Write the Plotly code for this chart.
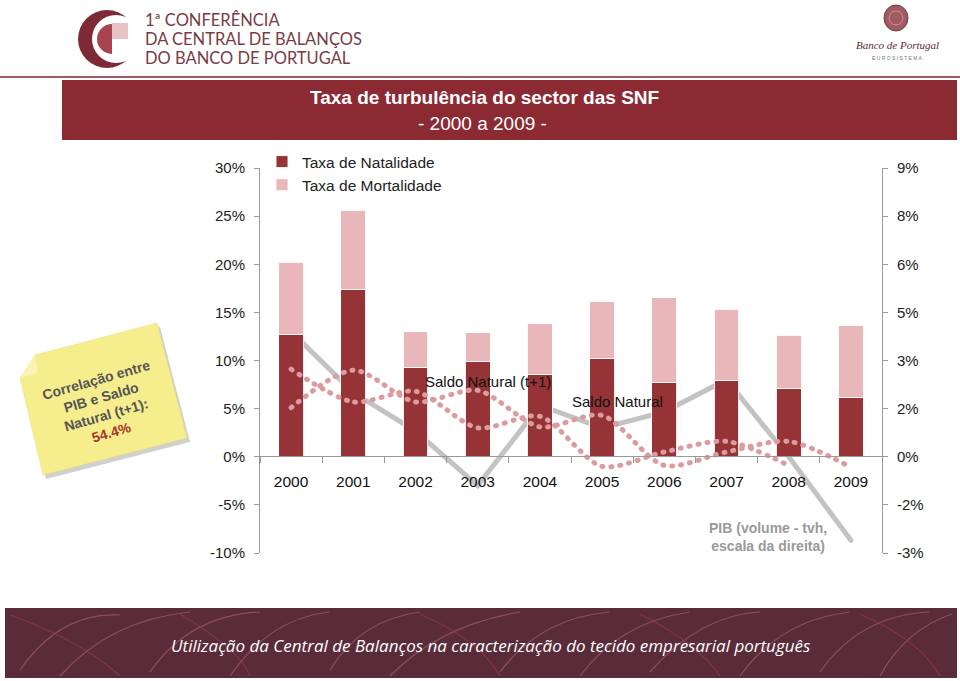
import plotly.graph_objects as go

# ---------------- data ----------------
years = ['2000', '2001', '2002', '2003', '2004', '2005', '2006', '2007', '2008', '2009']
natalidade = [12.7, 17.4, 9.3, 9.9, 8.5, 10.2, 7.7, 7.9, 7.1, 6.2]
mortalidade = [7.5, 8.2, 3.7, 3.0, 5.3, 5.9, 8.8, 7.4, 5.5, 7.4]
saldo_natural = [5.1, 9.0, 5.7, 6.9, 3.1, 4.3, -0.9, 0.5, 1.6, -1.1]
saldo_natural_t1 = [9.1, 5.7, 6.8, 3.0, 4.2, -1.0, 0.5, 1.6, -0.9]
pib = [3.9, 2.0, 0.8, -0.9, 1.6, 0.9, 1.4, 2.4, 0.0, -2.6]

left_tickvals = [-10, -5, 0, 5, 10, 15, 20, 25, 30]
left_ticktext = ['-10%', '-5%', '0%', '5%', '10%', '15%', '20%', '25%', '30%']
right_tickvals = [-3, -1.5, 0, 1.5, 3, 4.5, 6, 7.5, 9]
right_ticktext = ['-3%', '-2%', '0%', '2%', '3%', '5%', '6%', '8%', '9%']

# ---------------- colours / fonts ----------------
DARK = '#953336'
LIGHT = '#e9b6b9'
DOT = '#dc9b9e'
GREY = '#c3c3c3'
AX = '#9a9a9a'
FONT = 'Arial, Liberation Sans, sans-serif'

W, H = 960, 681
ML, MR, MT, MB = 260, 78, 168, 128
PW, PH = W - ML - MR, H - MT - MB


def PX(x):
    return (x - ML) / PW


def PY(y):
    return (H - MB - y) / PH


fig = go.Figure()

# PIB on the primary (right) axis so that it sits behind the bars
fig.add_trace(go.Scatter(
    x=years, y=pib, mode='lines', name='PIB', showlegend=False,
    line=dict(color=GREY, width=5), yaxis='y', hoverinfo='skip'))

fig.add_trace(go.Bar(
    x=years, y=natalidade, name='Taxa de Natalidade', yaxis='y2',
    marker=dict(color=DARK, line=dict(color='rgba(255,255,255,0.9)', width=1))))
fig.add_trace(go.Bar(
    x=years, y=mortalidade, name='Taxa de Mortalidade', yaxis='y2',
    marker=dict(color=LIGHT, line=dict(color='rgba(255,255,255,0.9)', width=1))))

fig.add_trace(go.Scatter(
    x=years, y=saldo_natural, mode='lines', name='Saldo Natural', showlegend=False,
    line=dict(color=DOT, width=5, dash='1px,8px', shape='spline', smoothing=0.8),
    yaxis='y2'))
fig.add_trace(go.Scatter(
    x=years[:len(saldo_natural_t1)], y=saldo_natural_t1, mode='lines',
    name='Saldo Natural (t+1)', showlegend=False,
    line=dict(color=DOT, width=5, dash='1px,8px', shape='spline', smoothing=0.8),
    yaxis='y2'))

shapes = []
annotations = []


def note_text(x, y, text, size, color, family=FONT, xanchor='center', angle=0):
    annotations.append(dict(xref='paper', yref='paper', x=PX(x), y=PY(y), xanchor=xanchor,
                            yanchor='middle', text=text, showarrow=False, textangle=angle,
                            font=dict(family=family, size=size, color=color)))


# header rule
shapes.append(dict(type='line', xref='paper', yref='paper', x0=PX(0), x1=PX(960),
                   y0=PY(77), y1=PY(77), line=dict(color='#9a5a60', width=2)))
# title bar
shapes.append(dict(type='rect', xref='paper', yref='paper', x0=PX(62), x1=PX(957),
                   y0=PY(140), y1=PY(80), fillcolor='#8c2a33', line=dict(width=0)))
note_text(484, 98, '<b>Taxa de turbulência do sector das SNF</b>', 19, 'white')
note_text(482, 124, '- 2000 a 2009 -', 19, 'white')

# left logo (conference)
shapes.append(dict(type='circle', xref='paper', yref='paper', x0=PX(78), x1=PX(136),
                   y0=PY(68), y1=PY(10), fillcolor='#7d2a36', line=dict(width=0)))
shapes.append(dict(type='circle', xref='paper', yref='paper', x0=PX(92), x1=PX(140),
                   y0=PY(63), y1=PY(15), fillcolor='white', line=dict(width=0)))
shapes.append(dict(type='circle', xref='paper', yref='paper', x0=PX(97), x1=PX(127),
                   y0=PY(54), y1=PY(24), fillcolor='#a8444f', line=dict(width=0)))
shapes.append(dict(type='rect', xref='paper', yref='paper', x0=PX(112), x1=PX(128),
                   y0=PY(55), y1=PY(39), fillcolor='white', line=dict(width=0)))
shapes.append(dict(type='rect', xref='paper', yref='paper', x0=PX(112), x1=PX(128),
                   y0=PY(39), y1=PY(23), fillcolor='#e7c3c6', line=dict(width=0)))
for i, t in enumerate(['1ª CONFERÊNCIA', 'DA CENTRAL DE BALANÇOS', 'DO BANCO DE PORTUGAL']):
    note_text(143, 20 + i * 19, t, 16.5, '#7a3c44', family='Lato, DejaVu Sans', xanchor='left')

# right logo (Banco de Portugal)
shapes.append(dict(type='circle', xref='paper', yref='paper', x0=PX(884), x1=PX(908),
                   y0=PY(31), y1=PY(5), fillcolor='#a05a62', line=dict(color='#7a3a42', width=1)))
shapes.append(dict(type='circle', xref='paper', yref='paper', x0=PX(889), x1=PX(903),
                   y0=PY(25), y1=PY(11), fillcolor='rgba(0,0,0,0)',
                   line=dict(color='#c89098', width=1)))
note_text(897, 45, '<i>Banco de Portugal</i>', 11, '#5a2a30', family='Liberation Serif, serif')
note_text(897, 58, 'E U R O S I S T E M A', 5, '#777')

# footer
shapes.append(dict(type='rect', xref='paper', yref='paper', x0=PX(5), x1=PX(957),
                   y0=PY(678), y1=PY(608), fillcolor='#5a2c3a', line=dict(width=0)))
arcs = [
    (20, 670, 60, 612, 120, 615), (60, 676, 110, 620, 190, 612), (150, 672, 190, 615, 260, 612),
    (230, 676, 270, 618, 330, 612), (330, 670, 360, 620, 420, 612), (390, 676, 440, 625, 520, 612),
    (500, 672, 540, 618, 610, 612), (580, 676, 620, 622, 690, 612), (650, 672, 700, 615, 760, 612),
    (740, 676, 780, 620, 850, 612), (820, 672, 860, 615, 930, 612), (880, 676, 905, 630, 952, 614),
]
for (x0, y0, xc, yc, x1, y1) in arcs:
    shapes.append(dict(type='path', xref='paper', yref='paper',
                       path=f'M {PX(x0)},{PY(y0)} Q {PX(xc)},{PY(yc)} {PX(x1)},{PY(y1)}',
                       line=dict(color='rgba(210,120,130,0.45)', width=1.2)))
arcs2 = [
    (10, 615, 80, 640, 120, 676), (180, 614, 240, 650, 250, 676), (420, 614, 480, 640, 500, 676),
    (640, 614, 700, 645, 720, 676), (860, 614, 920, 640, 940, 676),
]
for (x0, y0, xc, yc, x1, y1) in arcs2:
    shapes.append(dict(type='path', xref='paper', yref='paper',
                       path=f'M {PX(x0)},{PY(y0)} Q {PX(xc)},{PY(yc)} {PX(x1)},{PY(y1)}',
                       line=dict(color='rgba(160,60,75,0.6)', width=1.2)))
note_text(490, 645,
          '<i>Utilização da Central de Balanços na caracterização do tecido empresarial português</i>',
          17, 'white', family='Open Sans, sans-serif')

# sticky note
note = [(35, 355), (157, 323), (187, 438), (43, 475), (20, 378)]
shadow = [(x + 3, y + 4) for x, y in note]


def poly(pts):
    return 'M ' + ' L '.join(f'{PX(x)},{PY(y)}' for x, y in pts) + ' Z'


shapes.append(dict(type='path', xref='paper', yref='paper', path=poly(shadow),
                   fillcolor='rgba(120,120,120,0.35)', line=dict(width=0)))
shapes.append(dict(type='path', xref='paper', yref='paper', path=poly(note),
                   fillcolor='#f6ed8d', line=dict(color='#e8dc78', width=0.5)))
shapes.append(dict(type='path', xref='paper', yref='paper',
                   path=poly([(35, 355), (38, 373), (20, 378)]),
                   fillcolor='#faf3b5', line=dict(width=0)))
note_text(103, 406,
          '<b>Correlação entre<br>PIB e Saldo<br>Natural (t+1):<br>'
          '<span style="color:#a8342c">54.4%</span></b>', 14, '#555555', angle=-16)

# series labels
note_text(488, 381, 'Saldo Natural (t+1)', 15, '#111')
note_text(617, 401, 'Saldo Natural', 15, '#111')
note_text(768, 537, '<b>PIB (volume - tvh,<br>escala da direita)</b>', 14, '#9a9a9a')

fig.update_layout(
    width=W, height=H,
    margin=dict(l=ML, r=MR, t=MT, b=MB, pad=0),
    paper_bgcolor='white', plot_bgcolor='white',
    barmode='stack', bargap=0.6,
    font=dict(family=FONT, size=15, color='#222'),
    showlegend=True,
    legend=dict(x=PX(262), y=PY(145), xanchor='left', yanchor='top', traceorder='normal',
                bgcolor='rgba(0,0,0,0)', font=dict(family=FONT, size=15.5, color='#222'),
                tracegroupgap=0),
    xaxis=dict(type='category', domain=[0, 1], anchor='free', position=PY(456),
               showline=True, linecolor=AX, linewidth=1, ticks='outside', tickson='boundaries',
               ticklen=6, tickcolor=AX, tickfont=dict(family=FONT, size=15.5, color='#111'),
               showgrid=False, zeroline=False, ticklabelstandoff=11),
    yaxis=dict(side='right', range=[-3, 9], tickvals=right_tickvals, ticktext=right_ticktext,
               showline=True, linecolor=AX, linewidth=1, ticks='outside', ticklen=5,
               tickcolor=AX, tickfont=dict(family=FONT, size=15, color='#222'),
               showgrid=False, zeroline=False, ticklabelstandoff=6),
    yaxis2=dict(side='left', overlaying='y', range=[-10, 30], tickvals=left_tickvals,
                ticktext=left_ticktext, showline=True, linecolor=AX, linewidth=1,
                ticks='outside', ticklen=5, tickcolor=AX,
                tickfont=dict(family=FONT, size=15, color='#222'),
                showgrid=False, zeroline=False, ticklabelstandoff=6),
    shapes=shapes, annotations=annotations,
)

post = ("document.body.style.margin='0';"
        "var s=document.createElement('style');"
        "s.textContent='.scatterlayer .js-line{stroke-linecap:round !important;}';"
        "document.head.appendChild(s);")
fig.write_html('out.html', post_script=post, config={'displayModeBar': False})
